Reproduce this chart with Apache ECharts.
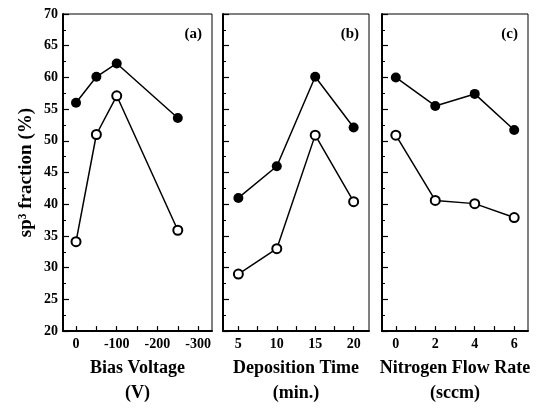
<!DOCTYPE html>
<html>
<head>
<meta charset="utf-8">
<script src="https://cdn.jsdelivr.net/npm/echarts@6/dist/echarts.min.js"></script>
<style>
html,body{margin:0;padding:0;background:#fff;}
#main{width:553px;height:411px;}
</style>
</head>
<body>
<div id="main"></div>
<script>
// panel (a) bias voltage, stored as magnitude of the negative bias (V)
var biasX = [0, 50, 100, 250];
var biasFilled = [56.0, 60.1, 62.2, 53.6];
var biasOpen = [34.1, 51.0, 57.1, 35.9];
var biasLabels = [0, 100, 200, 300];
var biasTicks = [0, 50, 100, 150, 200, 250, 300];

// panel (b) deposition time
var timeX = [5, 10, 15, 20];
var timeFilled = [41.0, 46.0, 60.1, 52.1];
var timeOpen = [29.0, 33.0, 50.9, 40.4];
var timeLabels = [5, 10, 15, 20];
var timeTicks = [5, 7.5, 10, 12.5, 15, 17.5, 20];

// panel (c) nitrogen flow rate
var flowX = [0, 2, 4, 6];
var flowFilled = [60.0, 55.5, 57.4, 51.7];
var flowOpen = [50.9, 40.6, 40.1, 37.9];
var flowLabels = [0, 2, 4, 6];
var flowTicks = [0, 1, 2, 3, 4, 5, 6];

var serif = '"Liberation Serif", "DejaVu Serif", serif';

function pairs(xs, ys){
	var d = [];
	for (var i = 0; i < xs.length; i++) d.push([xs[i], ys[i]]);
	return d;
}

function xAxisCfg(idx, min, max, labels, ticks, name, fmt){
	return {
		type:'value', gridIndex:idx, min:min, max:max,
		name:name, nameLocation:'middle', nameGap:22,
		nameTextStyle:{fontFamily:serif, fontWeight:'bold', fontSize:18, color:'#000', lineHeight:25, verticalAlign:'top'},
		axisLine:{show:true, onZero:false, lineStyle:{color:'#000', width:2}},
		axisTick:{show:true, inside:true, length:5, customValues:ticks, lineStyle:{color:'#000', width:1.2}},
		axisLabel:{show:true, customValues:labels, formatter:fmt, margin:6, fontFamily:serif, fontWeight:'bold', fontSize:14, color:'#000'},
		splitLine:{show:false}
	};
}

function yAxisCfg(idx, showLabel){
	return {
		type:'value', gridIndex:idx, min:20, max:70, interval:5,
		name: showLabel ? 'sp\u00b3 fraction (%)' : '',
		nameLocation:'middle', nameGap:27, nameRotate:90,
		nameTextStyle:{fontFamily:serif, fontWeight:'bold', fontSize:19, color:'#000'},
		axisLine:{show:true, onZero:false, lineStyle:{color:'#000', width:2}},
		axisTick:{show:true, inside:true, length:6, lineStyle:{color:'#000', width:1.2}},
		minorTick:{show:true, splitNumber:2, length:3, lineStyle:{color:'#000', width:1}},
		axisLabel:{show:showLabel, margin:5, fontFamily:serif, fontWeight:'bold', fontSize:14, color:'#000'},
		splitLine:{show:false}
	};
}

function filledSeries(idx, data){
	return {type:'line', xAxisIndex:idx, yAxisIndex:idx, data:data, symbol:'circle', symbolSize:10,
		lineStyle:{color:'#000', width:1.5}, itemStyle:{color:'#000'}, z:3};
}
function openSeries(idx, data){
	return {type:'line', xAxisIndex:idx, yAxisIndex:idx, data:data, symbol:'circle', symbolSize:9,
		lineStyle:{color:'#000', width:1.5}, itemStyle:{color:'#fff', borderColor:'#000', borderWidth:2}, z:3};
}

var gridBase = {show:true, borderColor:'#000', borderWidth:1, top:14, bottom:68, backgroundColor:'transparent'};

var myChart = echarts.init(document.getElementById('main'));
myChart.setOption({
	animation:false,
	backgroundColor:'#fff',
	title:[
		{text:'(a)', right:346, top:22, textStyle:{fontFamily:serif, fontWeight:'bold', fontSize:15, color:'#000'}},
		{text:'(b)', right:189, top:22, textStyle:{fontFamily:serif, fontWeight:'bold', fontSize:15, color:'#000'}},
		{text:'(c)', right:30, top:22, textStyle:{fontFamily:serif, fontWeight:'bold', fontSize:15, color:'#000'}}
	],
	grid:[
		Object.assign({left:63, right:341}, gridBase),
		Object.assign({left:223, right:184}, gridBase),
		Object.assign({left:382, right:25}, gridBase)
	],
	xAxis:[
		xAxisCfg(0, -32, 334, biasLabels, biasTicks, 'Bias Voltage\n(V)', function(v){ return v === 0 ? '0' : '-' + v; }),
		xAxisCfg(1, 3, 22, timeLabels, timeTicks, 'Deposition Time\n(min.)'),
		xAxisCfg(2, -0.7, 6.7, flowLabels, flowTicks, 'Nitrogen Flow Rate\n(sccm)')
	],
	yAxis:[yAxisCfg(0, true), yAxisCfg(1, false), yAxisCfg(2, false)],
	series:[
		filledSeries(0, pairs(biasX, biasFilled)),
		openSeries(0, pairs(biasX, biasOpen)),
		filledSeries(1, pairs(timeX, timeFilled)),
		openSeries(1, pairs(timeX, timeOpen)),
		filledSeries(2, pairs(flowX, flowFilled)),
		openSeries(2, pairs(flowX, flowOpen))
	]
});
</script>
</body>
</html>
